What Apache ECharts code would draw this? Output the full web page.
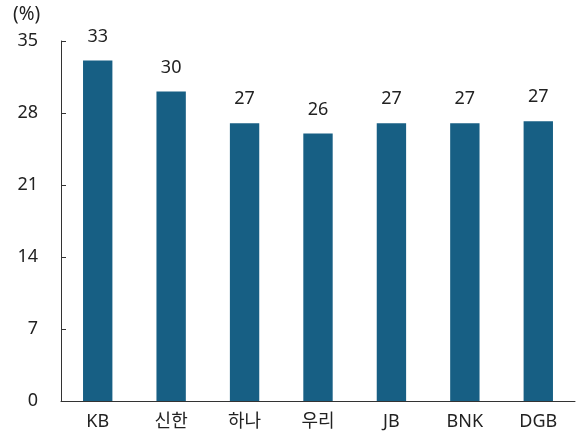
<!DOCTYPE html>
<html><head><meta charset="utf-8">
<script src="https://cdn.jsdelivr.net/npm/echarts@6/dist/echarts.min.js"></script>
<style>html,body{margin:0;padding:0;background:#fff}#c{width:579px;height:439px}</style>
</head><body><div id="c"></div>
<script>
const categories = ['KB','신한','하나','우리','JB','BNK','DGB'];
const values = [33.1, 30.1, 27.0, 26.0, 27.0, 27.0, 27.2];
const yTicks = [0, 7, 14, 21, 28, 35];
const unitLabel = '(%)';
const FONT = '"Noto Sans","Noto Sans CJK KR",sans-serif';
const chart = echarts.init(document.getElementById('c'));
chart.setOption({
  animation: false,
  textStyle: {fontFamily: FONT},
  grid: {left: 61, right: 4, top: 41, bottom: 38},
  graphic: [{type:'text', left: 13, top: 5, style:{text: unitLabel, font: '19px ' + FONT, fill:'#222'}}],
  xAxis: {
    type: 'category', data: categories,
    axisLine: {lineStyle: {color: '#333', width: 1}},
    axisTick: {inside: true, length: 5, lineStyle: {color: '#333'}},
    axisLabel: {color: '#222', fontSize: 18, margin: 12, fontFamily: FONT}
  },
  yAxis: {
    type: 'value', min: yTicks[0], max: yTicks[yTicks.length-1], interval: 7,
    splitLine: {show: false},
    axisLine: {show: true, lineStyle: {color: '#333', width: 1}},
    axisTick: {show: true, inside: true, length: 5, lineStyle: {color: '#333'}},
    axisLabel: {color: '#222', fontSize: 18, margin: 23, fontFamily: FONT}
  },
  series: [{
    type: 'bar', data: values, barWidth: '40%',
    itemStyle: {color: '#175f84'},
    label: {show: true, position: 'top', distance: 15, color: '#222', fontSize: 18, fontFamily: FONT,
      formatter: p => Math.round(p.value)}
  }]
});
</script></body></html>
